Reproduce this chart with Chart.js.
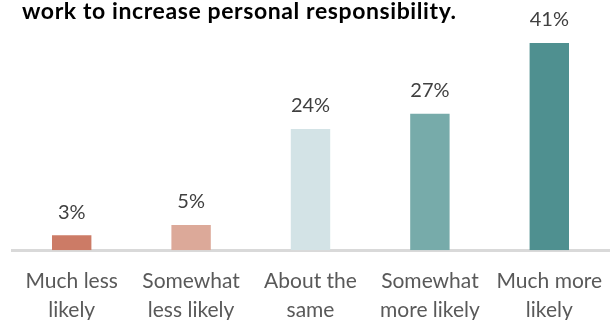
<!DOCTYPE html>
<html>
<head>
<meta charset="utf-8">
<script src="https://cdn.jsdelivr.net/npm/chart.js@4/dist/chart.umd.min.js"></script>
<style>
  html, body { margin: 0; padding: 0; background: #fff; }
  #wrap { width: 613px; height: 320px; }
</style>
</head>
<body>
<div id="wrap"><canvas id="ctx"></canvas></div>
<script>
const titleText = 'work to increase personal responsibility.';
const categories = [
    ['Much less', 'likely'],
    ['Somewhat', 'less likely'],
    ['About the', 'same'],
    ['Somewhat', 'more likely'],
    ['Much more', 'likely']
];
const values = [3, 5, 24, 27, 41];
const barColors = ['#CC7B66', '#DCA999', '#D3E3E6', '#77ABAA', '#4F9090'];

// title + value labels drawn on the canvas
const labelsPlugin = {
    id: 'labels',
    afterDatasetsDraw(chart) {
        const c = chart.ctx;
        c.save();
        c.fillStyle = '#000';
        c.font = 'bold 23px Lato';
        c.letterSpacing = '0.6px';
        c.textAlign = 'left';
        c.textBaseline = 'middle';
        c.fillText(titleText, 22, 12);

        c.letterSpacing = '0px';
        c.fillStyle = '#404040';
        c.font = '20px Lato';
        c.textAlign = 'center';
        chart.getDatasetMeta(0).data.forEach((bar, i) => {
            c.fillText(values[i] + '%', bar.x, bar.y - 23);
        });
        c.restore();
    }
};

new Chart(document.getElementById('ctx'), {
    type: 'bar',
    data: {
        labels: categories,
        datasets: [{
            data: values,
            backgroundColor: barColors,
            barPercentage: 0.33,
            categoryPercentage: 1
        }]
    },
    options: {
        responsive: true,
        maintainAspectRatio: false,
        animation: false,
        layout: { padding: { top: 43, left: 12, right: 4, bottom: -21 } },
        plugins: {
            legend: { display: false },
            tooltip: { enabled: false }
        },
        scales: {
            x: {
                grid: { display: false, drawTicks: false },
                border: { color: '#D9D9D9', width: 3 },
                ticks: {
                    color: '#595959',
                    font: { family: 'Lato', size: 21, lineHeight: 1.35 },
                    padding: 17,
                    maxRotation: 0,
                    autoSkip: false
                },
                afterFit(scale) {
                    scale.paddingLeft = 0;
                    scale.paddingRight = 0;
                }
            },
            y: {
                display: false,
                min: 0,
                max: 41
            }
        }
    },
    plugins: [labelsPlugin]
});
</script>
</body>
</html>
